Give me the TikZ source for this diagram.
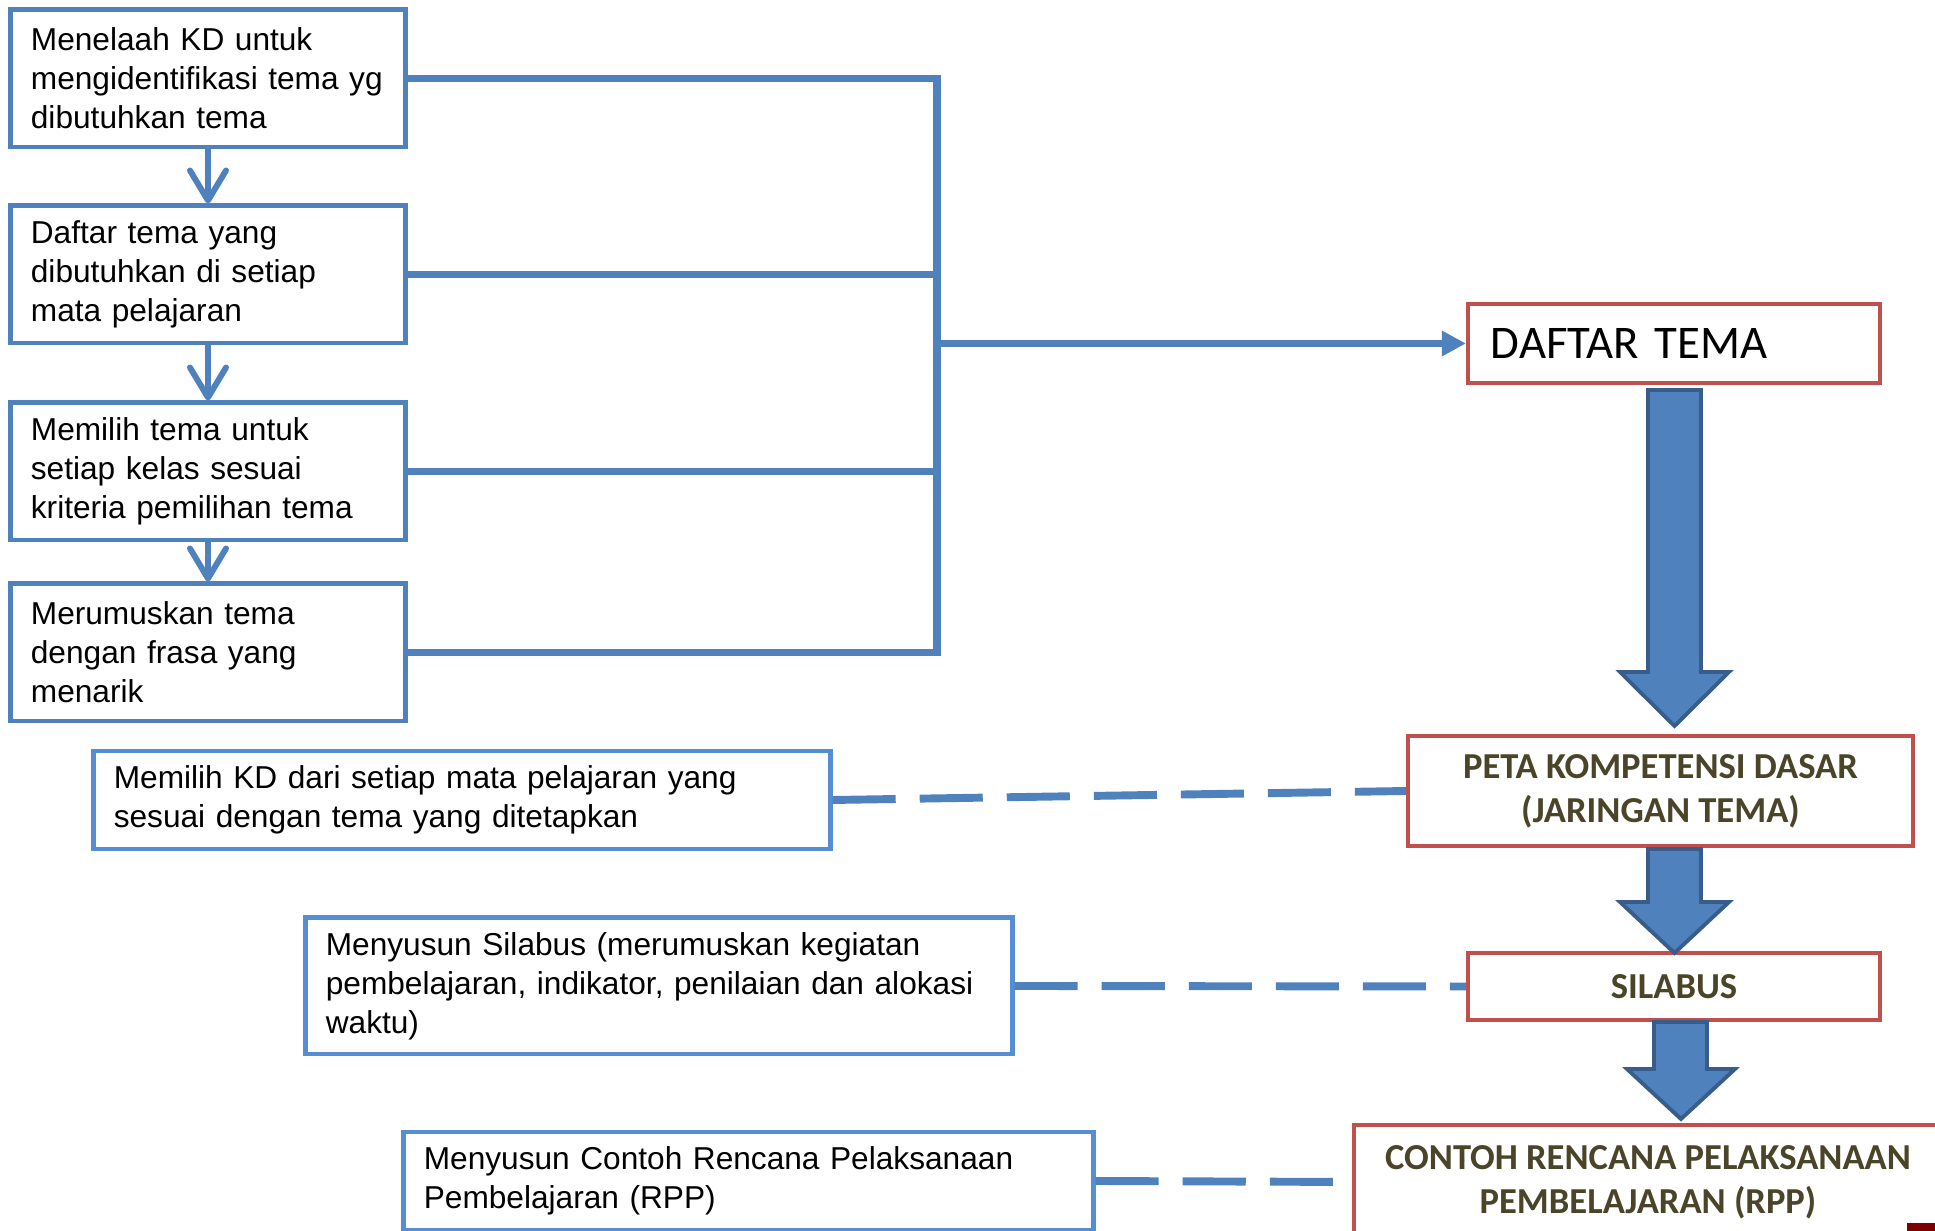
\documentclass[tikz,border=0pt]{standalone}
\usepackage{fontspec}
\setmainfont{Liberation Sans}
\newfontfamily\calibri{Carlito}
\usepackage{tikz}
\usetikzlibrary{positioning, arrows.meta}
\definecolor{boxblue}{HTML}{4F81BD}
\definecolor{lightblue}{HTML}{558ED5}
\definecolor{boxred}{HTML}{C0504D}
\definecolor{arrowedge}{HTML}{385D8A}
\definecolor{textolive}{HTML}{4A4529}
\definecolor{darkred}{HTML}{7F0000}

\begin{document}
\begin{tikzpicture}[x=0.01cm, y=-0.01cm,
                lbox/.style={draw=boxblue, line width=1.4pt, fill=white, align=left,
                        font=\fontsize{9}{11.1}\selectfont, inner xsep=0.2cm, inner ysep=0pt},
                sbox/.style={lbox, draw=lightblue},
                rbox/.style={draw=boxred, line width=1.1pt, fill=white, align=center, inner sep=0pt,
                        text=textolive, font=\calibri\bfseries\fontsize{10.4}{12.5}\selectfont},
                link/.style={draw=boxblue, line width=2.25pt},
                down/.style={draw=boxblue, line width=1.7pt, -{Straight Barb[length=0.3cm, width=0.36cm, round]}},
                dashlink/.style={link, dash pattern=on 0.63cm off 0.24cm},
                bigarrow/.style={fill=boxblue, draw=arrowedge, line width=1.1pt, line join=miter}]
                \useasboundingbox (0,0) rectangle (1935,1231);

                \node [lbox, text width=3.54cm, minimum height=1.37cm] (b1) at (208,78.5)
                        {Menelaah KD untuk\\ mengidentifikasi tema yg\\ dibutuhkan tema};
                \node [lbox, text width=3.54cm, minimum height=1.37cm] (b2) at (208,274.5)
                        {Daftar tema yang\\ dibutuhkan di setiap\\ mata pelajaran};
                \node [lbox, text width=3.54cm, minimum height=1.37cm] (b3) at (208,471.5)
                        {Memilih tema untuk\\ setiap kelas sesuai\\ kriteria pemilihan tema};
                \node [lbox, text width=3.54cm, minimum height=1.37cm] (b4) at (208,652.5)
                        {Merumuskan tema\\ dengan frasa yang\\ menarik};

                \node [sbox, text width=6.96cm, minimum height=0.98cm] (kd) at (462,800)
                        {Memilih KD dari setiap mata pelajaran yang\\ sesuai dengan tema yang ditetapkan};
                \node [sbox, text width=6.66cm, minimum height=1.36cm] (susun) at (659,986)
                        {Menyusun Silabus (merumuskan kegiatan\\ pembelajaran, indikator, penilaian dan alokasi\\ waktu)};
                \node [sbox, text width=6.49cm, minimum height=0.98cm] (contoh) at (748.5,1181)
                        {Menyusun Contoh Rencana Pelaksanaan\\ Pembelajaran (RPP)};

                \node [rbox, align=left, text=black, font=\calibri\fontsize{13.3}{16}\selectfont,
                        inner xsep=0.23cm, text width=3.66cm, minimum height=0.79cm] (daftar) at (1674,343.5) {DAFTAR TEMA};
                \node [rbox, minimum width=5.05cm, minimum height=1.10cm] (peta) at (1660.5,791)
                        {PETA KOMPETENSI DASAR\\ (JARINGAN TEMA)};
                \node [rbox, minimum width=4.12cm, minimum height=0.67cm] (silabus) at (1674,986.5) {SILABUS};
                \node [rbox, minimum width=5.88cm, minimum height=1.14cm] (rpp) at (1648,1182)
                        {CONTOH RENCANA PELAKSANAAN\\ PEMBELAJARAN (RPP)};

                \draw [down] (b1) -- (b2);
                \draw [down] (b2) -- (b3);
                \draw [down] (b3) -- (b4);

                \coordinate (bt) at (937,78.5);
                \coordinate (bb) at (937,652.5);
                \draw [link] (b1.east) -- (bt) -- (bb) -- (b4.east);
                \draw [link] (b2.east) -- (b2.east -| bt);
                \draw [link] (b3.east) -- (b3.east -| bt);
                \draw [link, -{Triangle[length=0.24cm, width=0.24cm]}] (daftar.west -| bt) -- (daftar.west);

                \draw [dashlink] (kd.east) -- (peta.west);
                \draw [dashlink] (susun.east) -- (silabus.west);
                \draw [dashlink] (contoh.east) -- (rpp.west);

                \draw [bigarrow] (1648,390) -- (1701,390) -- (1701,672) -- (1729,672) -- (1674.5,726)
                        -- (1620,672) -- (1648,672) -- cycle;
                \draw [bigarrow] (1648,849) -- (1701,849) -- (1701,902) -- (1729,902) -- (1674.5,953)
                        -- (1620,902) -- (1648,902) -- cycle;
                \draw [bigarrow] (1654,1022) -- (1707,1022) -- (1707,1069) -- (1735,1069) -- (1681,1119)
                        -- (1627,1069) -- (1654,1069) -- cycle;

                \fill [darkred] (1907,1223) rectangle (1950,1245);
            \end{tikzpicture}
\end{document}
